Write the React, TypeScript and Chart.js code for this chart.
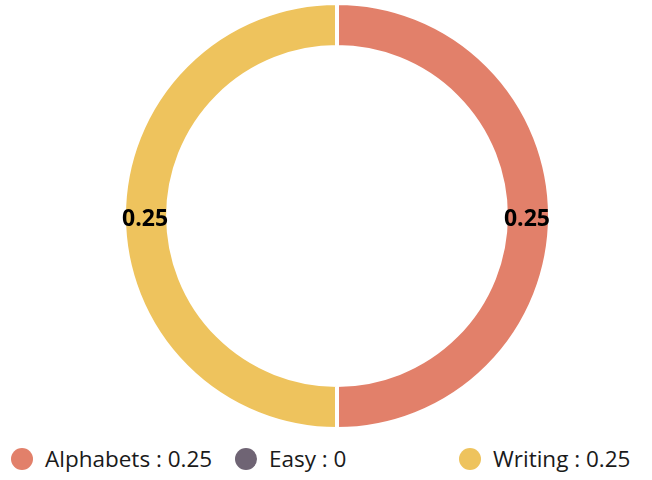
import React, { useEffect, useRef } from "react";
import { Chart, registerables } from "chart.js";

Chart.register(...registerables);

const categories = ["Alphabets", "Easy", "Writing"];
const values = [0.25, 0, 0.25];
const colors = ["#E2806A", "#6F6474", "#EEC35D"];

const FONT = "'Open Sans', 'Noto Sans', sans-serif";

const valueLabels = {
  id: "valueLabels",
  afterDatasetsDraw(chart: any) {
    const ctx = chart.ctx;
    const meta = chart.getDatasetMeta(0);
    const data = chart.data.datasets[0].data as number[];
    ctx.save();
    ctx.font = `bold 23px ${FONT}`;
    ctx.fillStyle = "#000";
    ctx.textAlign = "center";
    ctx.textBaseline = "middle";
    meta.data.forEach((arc: any, i: number) => {
      if (!data[i]) return;
      const p = arc.tooltipPosition();
      ctx.fillText(String(data[i]), p.x - 1, p.y + 3);
    });
    ctx.restore();
  },
};

const legendLefts = [11, 235, 459];

export default function App() {
  const ref = useRef<HTMLCanvasElement>(null);
  useEffect(() => {
    if (!ref.current) return;
    const chart = new Chart(ref.current, {
      type: "doughnut",
      data: {
        labels: categories,
        datasets: [
          {
            data: values,
            backgroundColor: colors,
            borderColor: "#ffffff",
            borderWidth: 4,
            hoverOffset: 0,
          },
        ],
      },
      options: {
        animation: false,
        responsive: false,
        maintainAspectRatio: false,
        cutout: "79.3%",
        layout: { padding: { left: 22, right: 0, top: 1, bottom: 1 } },
        plugins: {
          legend: { display: false },
          tooltip: { enabled: false },
        },
      },
      plugins: [valueLabels],
    });
    return () => chart.destroy();
  }, []);

  return (
    <div
      style={{
        position: "fixed",
        left: 0,
        top: 0,
        width: 652,
        height: 480,
        background: "#fff",
        fontFamily: FONT,
      }}
    >
      <canvas
        ref={ref}
        width={652}
        height={432}
        style={{ position: "absolute", left: 0, top: 0, width: 652, height: 432 }}
      />
      {categories.map((c, i) => (
        <div
          key={c}
          style={{
            position: "absolute",
            left: legendLefts[i],
            top: 448,
            height: 22,
            display: "flex",
            alignItems: "center",
            whiteSpace: "nowrap",
            fontSize: 22.5,
            color: "#1a1a1a",
          }}
        >
          <span
            style={{
              display: "inline-block",
              width: 22,
              height: 22,
              borderRadius: "50%",
              background: colors[i],
              marginRight: 12,
              flexShrink: 0,
            }}
          />
          <span style={{ lineHeight: "22px" }}>{`${c} : ${values[i]}`}</span>
        </div>
      ))}
    </div>
  );
}
